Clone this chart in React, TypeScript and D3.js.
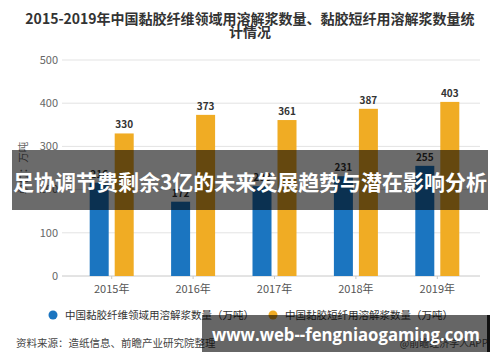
import React from "react";
import * as d3 from "d3";

const years = ["2015年", "2016年", "2017年", "2018年", "2019年"];
const fiberValues = [216, 172, 208, 231, 255];
const staple = [330, 373, 361, 387, 403];
const yTicks = [0, 100, 200, 300, 400, 500];
const seriesNames = ["中国黏胶纤维领域用溶解浆数量（万吨）", "中国黏胶短纤用溶解浆数量（万吨）"];
const colors = ["#1b75c0", "#f0ac24"];
const titleLines = ["2015-2019年中国黏胶纤维领域用溶解浆数量、黏胶短纤用溶解浆数量统", "计情况"];
const bannerText = "足协调节费剩余3亿的未来发展趋势与潜在影响分析";
const urlText = "www.web--fengniaogaming.com";
const sourceText = "资料来源：造纸信息、前瞻产业研究院整理";
const appText = "@前瞻经济学人APP";
const yLabel = "单位：万吨";

const FONT = "'Microsoft YaHei', 'Noto Sans CJK SC', 'Noto Sans', sans-serif";

export default function App() {
  const W = 500, H = 362;
  const x0 = d3.scalePoint<string>().domain(years).range([71, 478]).padding(0.5);
  const x1 = d3.scaleBand<number>().domain([0, 1]).range([-22, 22]).paddingInner(0.24);
  const y = d3.scaleLinear().domain([0, 500]).range([276, 60]);
  const series = [fiberValues, staple];

  return (
    <svg width={W} height={H} style={{ position: "absolute", left: 0, top: 0, background: "#fff" }} fontFamily={FONT}>
      <rect x={0} y={0} width={W} height={H} fill="#fff" />
      {titleLines.map((t, i) => (
        <text key={i} x={250} y={24 + i * 12.5} textAnchor="middle" fontSize={14} fontWeight="bold" fill="#333">{t}</text>
      ))}
      {yTicks.map((t) => (
        <g key={t}>
          <line x1={62} x2={480} y1={y(t)} y2={y(t)} stroke={t === 0 ? "#c8c8c8" : "#e3e3e3"} strokeWidth={1} />
          <text x={58} y={y(t)} dy="0.35em" textAnchor="end" fontSize={11} fill="#666">{t}</text>
        </g>
      ))}
      <text transform={`translate(27,168) rotate(-90)`} textAnchor="middle" fontSize={10.5} fill="#666">{yLabel}</text>
      {years.map((yr, i) => (
        <g key={yr}>
          <line x1={x0(yr)!} x2={x0(yr)!} y1={y(0)} y2={y(0) + 3} stroke="#c8c8c8" />
          <text x={x0(yr)!} y={289} dy="0.35em" textAnchor="middle" fontSize={11} fill="#555">{yr}</text>
          {series.map((s, k) => {
            const bx = x0(yr)! + x1(k)!;
            return (
              <g key={k}>
                <rect x={bx} y={y(s[i])} width={x1.bandwidth()} height={y(0) - y(s[i])} fill={colors[k]} />
                <text x={bx + x1.bandwidth() / 2} y={y(s[i]) - 5} textAnchor="middle" fontSize={10} fontWeight="bold" fill="#333">{s[i]}</text>
              </g>
            );
          })}
        </g>
      ))}
      {seriesNames.map((n, k) => (
        <g key={n} transform={`translate(${k === 0 ? 53 : 273},315)`}>
          <circle cx={0} cy={0} r={4.5} fill={colors[k]} />
          <text x={12} y={0} dy="0.35em" fontSize={10.5} fill="#333">{n}</text>
        </g>
      ))}
      <text x={16} y={343} dy="0.35em" fontSize={10.5} fill="#444">{sourceText}</text>
      <text x={488} y={343} dy="0.35em" textAnchor="end" fontSize={10} fill="#555">{appText}</text>

      <rect x={12} y={150} width={476} height={60} fill="rgba(0,0,0,0.58)" />
      <text x={13} y={183} dy="0.35em" fontSize={21} fontWeight="bold" fill="#fff" textLength={474} lengthAdjust="spacingAndGlyphs" fontFamily="'Noto Sans CJK SC', sans-serif">{bannerText}</text>

      <rect x={202} y={315} width={286} height={37} fill="rgba(0,0,0,0.6)" />
      <rect x={487} y={315} width={3} height={37} fill="#111" />
      <text x={212} y={335} dy="0.35em" fontSize={18} fontWeight="bold" fill="#fff" textLength={268} lengthAdjust="spacingAndGlyphs" fontFamily="'Open Sans', sans-serif">{urlText}</text>
    </svg>
  );
}
